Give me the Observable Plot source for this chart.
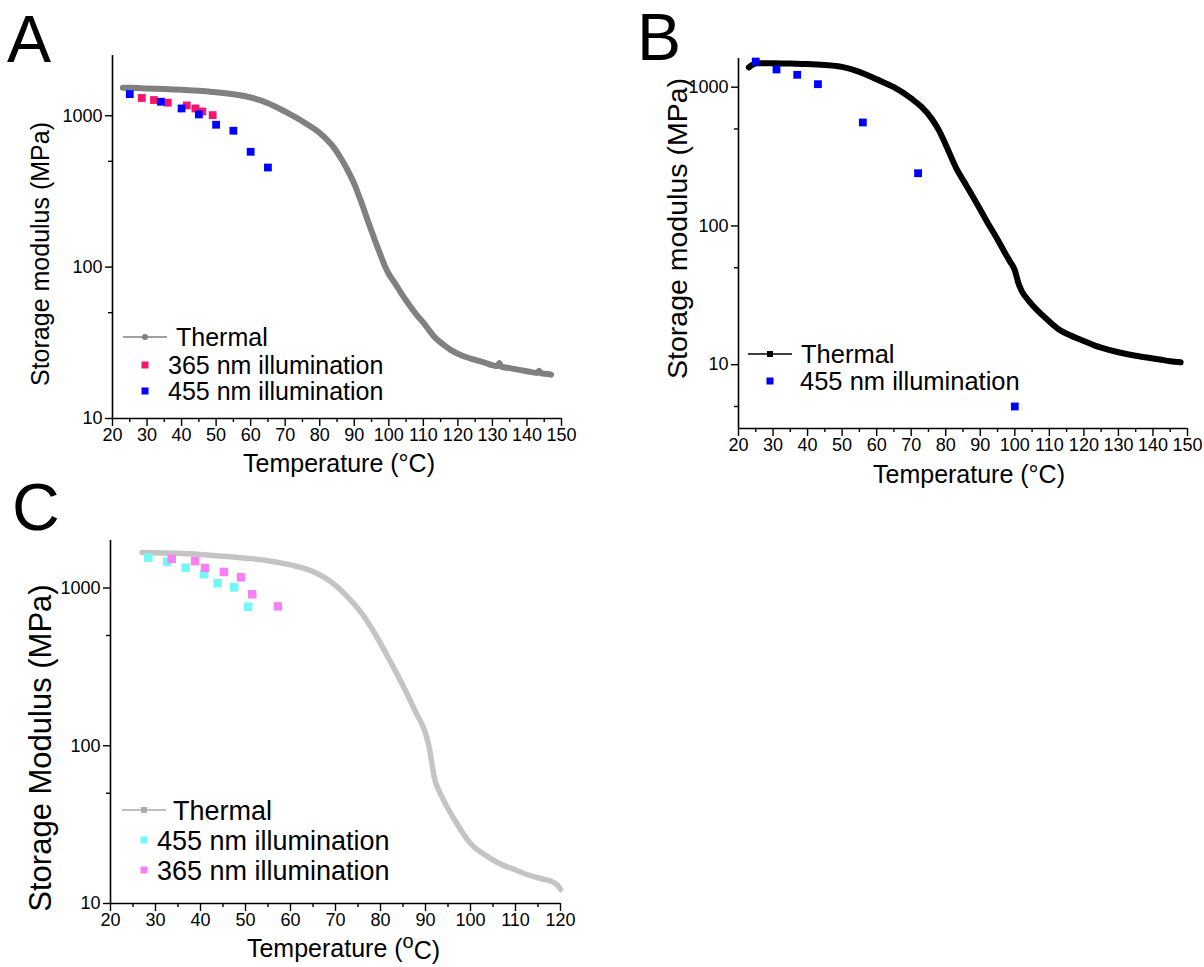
<!DOCTYPE html>
<html><head><meta charset="utf-8">
<script src="https://cdn.jsdelivr.net/npm/d3@7"></script>
<script src="https://cdn.jsdelivr.net/npm/@observablehq/plot@0.6"></script>
<style>
body{margin:0;background:#fff;}
#wrap{position:relative;width:1204px;height:967px;overflow:hidden;background:#fff;font-family:"Liberation Sans",Arial,sans-serif;}
.panel{position:absolute;}
#overlay{position:absolute;left:0;top:0;}
#wrap svg.panel g[aria-label$="tick label"] text{font-size:18px !important;}
</style></head><body><div id="wrap"></div>
<script>
// ---------- data ----------
const tempMajorA = [20,30,40,50,60,70,80,90,100,110,120,130,140,150];
const tempMinorA = [25,35,45,55,65,75,85,95,105,115,125,135,145];
const tempMajorC = [20,30,40,50,60,70,80,90,100,110,120];
const tempMinorC = [25,35,45,55,65,75,85,95,105,115];
const modMajor = [10,100,1000];
const modMinorA = [50,500];
const modMinorB = [5,50,500];

// Panel A
const aThermT = [23,25,30,35,40,45,50,55,60,65,70,76,80,84,86,88,90,92,94,96,98,99,100,102,104,106,108,110,113,116,118,120,123,125,128,130,131.5,132,132.5,135,140,143,143.5,144,146,147];
const aThermE = [1530,1530,1515,1500,1485,1460,1430,1385,1320,1210,1065,890,770,620,530,440,355,270,200,150,114,100,90,77,65,56,48.5,43,35,30.5,28.3,26.8,25.2,24.4,23.3,22.5,22.2,23.3,22.1,21.5,20.5,20,20.7,19.9,19.7,19.5];
const a365T = [28.5,32,36,41.5,44,46,49];
const a365E = [1310,1270,1220,1170,1117,1067,1010];
const a455T = [25,34,40,45,50,55,60,65];
const a455E = [1390,1237,1117,1020,872,796,578,455];

// Panel B
const bThermT = [23,24,25.5,30,35,40,45,50,55,60,65,70,73,76,78,80,83,86,89,92,95,97,98.5,100,101,102,104,107,110,113,116,120,123,125,130,135,140,142,145,148];
const bThermE = [1390,1450,1490,1490,1480,1470,1445,1400,1290,1140,1000,830,720,590,490,385,262,195,145,107,80,65,56,48,39,34,29,24,20.5,17.8,16.3,14.8,13.8,13.3,12.3,11.6,11.1,10.9,10.6,10.4];
const b455T = [25,31,37,43,56,72,100];
const b455E = [1530,1342,1228,1051,557,240,5];

// Panel C
const cThermT = [27,30,35,40,45,50,55,60,65,70,73,76,79,82,85,88,90,91,91.5,92,93,95,97,100,103,106,110,113,116,118.5,119.5,120];
const cThermE = [1680,1675,1660,1630,1590,1545,1490,1400,1270,1040,860,680,500,350,240,160,120,92,75,62,52,40,32,24,20.5,18.2,16.3,15.1,14.3,13.6,12.9,12.3];
const c455T = [28.4,32.6,36.7,40.8,43.8,47.5,50.6];
const c455E = [1557,1468,1346,1222,1071,1010,761];
const c365T = [33.6,38.8,41.0,45.2,49.0,51.5,57.2];
const c365E = [1528,1479,1339,1264,1169,912,765];

const legendA = ["Thermal","365 nm illumination","455 nm illumination"];
const legendB = ["Thermal","455 nm illumination"];
const legendC = ["Thermal","455 nm illumination","365 nm illumination"];

// ---------- helpers ----------
const rows = (T, E) => T.map((t, i) => ({t, e: E[i]}));
const FONT = "'Liberation Sans', Arial, sans-serif";
const wrap = document.getElementById("wrap");

function makePanel(o) {
  const marks = [
    ...o.marks,
    Plot.ruleX([o.xDomain[0]], {stroke: "#000", strokeWidth: 1.6}),
    Plot.ruleY([o.yDomain[0]], {stroke: "#000", strokeWidth: 1.6}),
    Plot.axisX(o.xMajor, {tickSize: 8, tickPadding: 2, strokeWidth: 1.4, fontSize: 18, label: null, tickFormat: d => String(d)}),
    Plot.axisX(o.xMinor, {tickSize: 4, strokeWidth: 1.4, label: null, tickFormat: () => ""}),
    Plot.axisY(o.yMajor, {tickSize: 7, tickPadding: 3, strokeWidth: 1.4, fontSize: 18, label: null, tickFormat: d => String(d)}),
    Plot.axisY(o.yMinor, {tickSize: 4, strokeWidth: 1.4, label: null, tickFormat: () => ""}),
    Plot.text([o.ylabel], {text: d => d, frameAnchor: "left", textAnchor: "middle", lineAnchor: "middle", rotate: -90, dx: o.ylabDx, dy: o.ylabDy, fontSize: o.ylabSize || 25}),
    Plot.text([o.xlabel], {text: d => d, frameAnchor: "bottom", textAnchor: "middle", lineAnchor: "middle", dx: o.xlabDx, dy: o.xlabDy, fontSize: o.xlabSize || 25})
  ];
  const svg = Plot.plot({
    width: o.width, height: o.height,
    marginLeft: o.ml, marginRight: o.mr, marginTop: o.mt, marginBottom: o.mb,
    x: {domain: o.xDomain},
    y: {type: "log", domain: o.yDomain},
    style: {fontFamily: FONT, fontSize: "18px", color: "#000", background: "transparent", overflow: "visible"},
    marks
  });
  svg.classList.add("panel");
  svg.style.left = o.left + "px";
  svg.style.top = o.top + "px";
  wrap.appendChild(svg);
  return svg;
}

// ---------- Panel A ----------
makePanel({
  left: 0, top: 0, width: 600, height: 490, ml: 112, mr: 39, mt: 55, mb: 72,
  xDomain: [20, 150], yDomain: [10, 2500],
  xMajor: tempMajorA, xMinor: tempMinorA, yMajor: modMajor, yMinor: modMinorA,
  ylabel: "Storage modulus (MPa)", ylabDx: -72, ylabDy: 17,
  xlabel: "Temperature (°C)", xlabDx: 2, xlabDy: 45,
  marks: [
    Plot.line(rows(aThermT, aThermE), {x: "t", y: "e", stroke: "#808080", strokeWidth: 6, curve: "monotone-x"}),
    Plot.dot(rows(a365T, a365E), {x: "t", y: "e", symbol: "square", r: 4.4, fill: "#f5146e"}),
    Plot.dot(rows(a455T, a455E), {x: "t", y: "e", symbol: "square", r: 4.4, fill: "#0000ff"})
  ]
});

// ---------- Panel B ----------
makePanel({
  left: 620, top: 0, width: 584, height: 500, ml: 118, mr: 17, mt: 58, mb: 72,
  xDomain: [20, 150], yDomain: [3.47, 1610],
  xMajor: tempMajorA, xMinor: tempMinorA, yMajor: modMajor, yMinor: modMinorB,
  ylabel: "Storage modulus (MPa)", ylabDx: -61, ylabDy: -15, ylabSize: 28.5,
  xlabel: "Temperature (°C)", xlabDx: 6, xlabDy: 46,
  marks: [
    Plot.line(rows(bThermT, bThermE), {x: "t", y: "e", stroke: "#000", strokeWidth: 6, curve: "monotone-x"}),
    Plot.dot(rows(b455T, b455E), {x: "t", y: "e", symbol: "square", r: 4.4, fill: "#0000ff"})
  ]
});

// ---------- Panel C ----------
const svgC = makePanel({
  left: 0, top: 480, width: 600, height: 487, ml: 110, mr: 40, mt: 60, mb: 64,
  xDomain: [20, 120], yDomain: [10, 2000],
  xMajor: tempMajorC, xMinor: tempMinorC, yMajor: modMajor, yMinor: modMinorA,
  ylabel: "Storage Modulus (MPa)", ylabDx: -69, ylabDy: 26, ylabSize: 31,
  xlabel: "Temperature (oC)", xlabDx: 8, xlabDy: 45, xlabSize: 25,
  marks: [
    Plot.line(rows(cThermT, cThermE), {x: "t", y: "e", stroke: "#c4c4c4", strokeWidth: 5.5, curve: "monotone-x"}),
    Plot.dot(rows(c455T, c455E), {x: "t", y: "e", symbol: "square", r: 4.8, fill: "#74f7f7"}),
    Plot.dot(rows(c365T, c365E), {x: "t", y: "e", symbol: "square", r: 4.8, fill: "#f780f5"})
  ]
});
// superscript o in panel C x label
d3.select(svgC).selectAll("text").filter(function(){ return this.textContent === "Temperature (oC)"; })
  .each(function(){
    const t = d3.select(this); t.text("");
    t.append("tspan").text("Temperature (");
    t.append("tspan").attr("dy", "-0.45em").attr("font-size", "20px").text("o");
    t.append("tspan").attr("dy", "0.45em").text("C)");
  });

// ---------- letters and legends ----------
const ov = d3.select(wrap).append("svg").attr("id", "overlay").attr("width", 1204).attr("height", 967)
  .style("font-family", FONT);
ov.append("text").attr("x", 7).attr("y", 62).attr("font-size", 66).text("A");
ov.append("text").attr("x", 637).attr("y", 60).attr("font-size", 66).text("B");
ov.append("text").attr("x", 12).attr("y", 530).attr("font-size", 66).text("C");

function legend(items, fs) {
  for (const it of items) {
    const g = ov.append("g");
    if (it.kind === "line") {
      g.append("line").attr("x1", it.cx - 22).attr("x2", it.cx + 22).attr("y1", it.cy).attr("y2", it.cy)
        .attr("stroke", it.color).attr("stroke-width", 1.3);
      if (it.marker === "circle") g.append("circle").attr("cx", it.cx).attr("cy", it.cy).attr("r", 3).attr("fill", it.color);
      else g.append("rect").attr("x", it.cx - 3).attr("y", it.cy - 3).attr("width", 6).attr("height", 6).attr("fill", it.color);
    } else {
      g.append("rect").attr("x", it.cx - 3.5).attr("y", it.cy - 3.5).attr("width", 7).attr("height", 7).attr("fill", it.color);
    }
    g.append("text").attr("x", it.tx).attr("y", it.cy + fs * 0.36).attr("font-size", fs).text(it.label);
  }
}
legend([
  {kind: "line", marker: "circle", cx: 145, cy: 337, color: "#808080", tx: 176, label: legendA[0]},
  {kind: "sq", cx: 145, cy: 365, color: "#f5146e", tx: 168, label: legendA[1]},
  {kind: "sq", cx: 145, cy: 391, color: "#0000ff", tx: 168, label: legendA[2]}
], 25);
legend([
  {kind: "line", marker: "square", cx: 770, cy: 354, color: "#000", tx: 801, label: legendB[0]},
  {kind: "sq", cx: 770, cy: 381, color: "#0000ff", tx: 800, label: legendB[1]}
], 25.5);
legend([
  {kind: "line", marker: "square", cx: 144, cy: 810, color: "#aaaaaa", tx: 173, label: legendC[0]},
  {kind: "sq", cx: 144, cy: 840, color: "#74f7f7", tx: 157, label: legendC[1]},
  {kind: "sq", cx: 144, cy: 870, color: "#f780f5", tx: 157, label: legendC[2]}
], 27);
</script></body></html>
